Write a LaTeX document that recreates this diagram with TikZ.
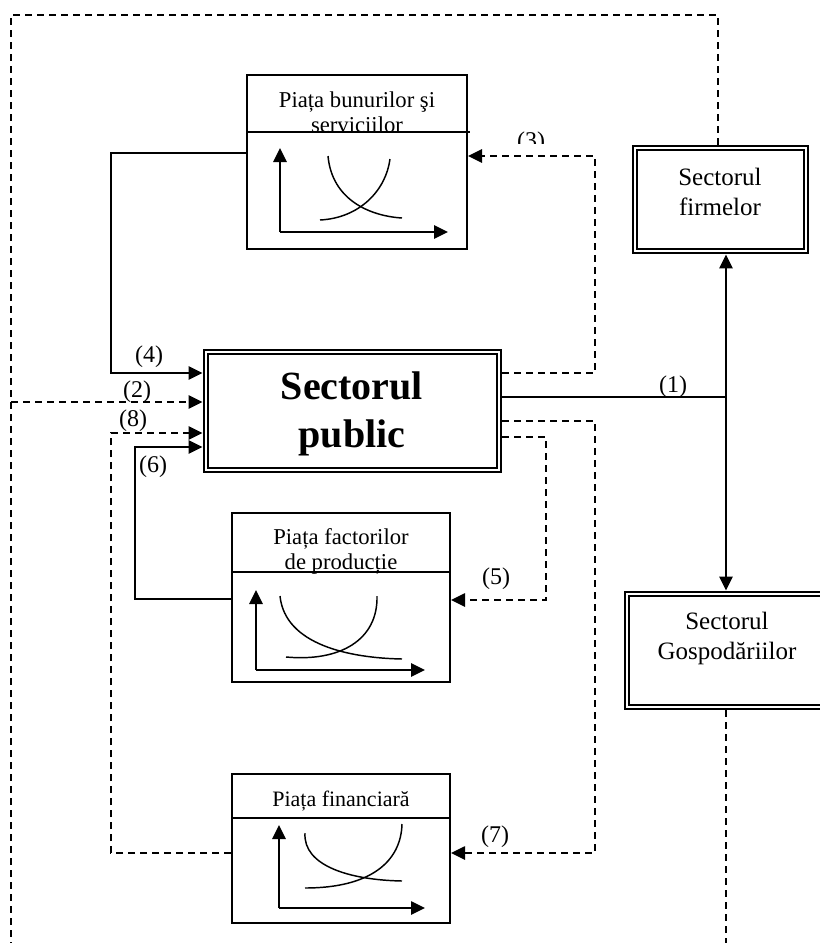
\documentclass[tikz,border=0pt]{standalone}
\usepackage{fontspec}
\setmainfont{Liberation Serif}
\usetikzlibrary{arrows.meta,fit}
\begin{document}
\begin{tikzpicture}[x=0.75pt,y=-0.75pt,
  conn/.style={line width=1.2pt},
  dconn/.style={line width=1.2pt,dash pattern=on 5pt off 4pt},
  arr/.style={-{Triangle[length=10.5pt,width=10pt]}},
  axarr/.style={line width=1.2pt,-{Triangle[length=10.5pt,width=10pt]}},
  curve/.style={line width=1.1pt},
  mbox/.style={draw,line width=1.5pt,inner sep=0pt},
  dbox/.style={draw,line width=2.2pt,inner sep=0pt},
  inner/.style={line width=1.3pt},
  lbl/.style={inner sep=0pt,font=\fontsize{18}{20}\selectfont},
  mtitle/.style={inner sep=0pt,align=center,font=\fontsize{17}{18.75}\selectfont},
  stitle/.style={inner sep=0pt,align=center,font=\fontsize{18.75}{22.5}\selectfont},
  ptitle/.style={inner sep=0pt,align=center,font=\fontsize{30}{36}\selectfont\bfseries}]
\useasboundingbox (0,0) rectangle (820,947);
\clip (0,0) rectangle (820,947);

% boxes
\node[mbox,fit={(247,75) (467,249)}] (bun) {};
\node[mbox,fit={(232,513) (450,682)}] (fact) {};
\node[mbox,fit={(232,774) (450,923)}] (fin) {};
\node[dbox,fit={(204,350) (501,472)}] (pub) {};
\node[dbox,fit={(633,146) (808,253)}] (firm) {};
\node[dbox,fit={(625,592) (829,709)}] (gosp) {};
\draw[inner] ([shift={(5.5,5.5)}]pub.north west) rectangle ([shift={(-5.5,-5.5)}]pub.south east);
\draw[inner] ([shift={(5.5,5.5)}]firm.north west) rectangle ([shift={(-5.5,-5.5)}]firm.south east);
\draw[inner] ([shift={(5.5,5.5)}]gosp.north west) rectangle ([shift={(-5.5,-5.5)}]gosp.south east);

% dividers
\draw[line width=1.5pt] (247,132) -- (470,132);
\draw[line width=1.5pt] (232,572) -- (450,572);
\draw[line width=1.5pt] (232,818) -- (450,818);

% titles
\node[mtitle] (tbun) at (357,112) {Piața bunurilor şi\\serviciilor};
\node[mtitle] (tfact) at (341,551) {Piața factorilor\\de producție};
\node[mtitle,font=\fontsize{16.5}{18}\selectfont] (tfin) at (341,801) {Piața financiară};
\node[ptitle] (tpub) at (352,414) {Sectorul\\public};
\node[stitle] (tfirm) at (720,192) {Sectorul\\firmelor};
\node[stitle] (tgosp) at (727,638) {Sectorul\\Gospodăriilor};

% small graphs
\draw[axarr] (280,232) -- (280,148);
\draw[axarr] (280,232) -- (448,232);
\draw[curve] (328,156) .. controls (332,200) and (370,216) .. (402,218);
\draw[curve] (320,220) .. controls (360,218) and (386,190) .. (390,159);

\draw[axarr] (256,670) -- (256,590);
\draw[axarr] (256,670) -- (425,670);
\draw[curve] (280,596) .. controls (285,645) and (350,658) .. (402,659);
\draw[curve] (286,657) .. controls (340,662) and (378,640) .. (377,596);

\draw[axarr] (279,908) -- (279,825);
\draw[axarr] (279,908) -- (425,908);
\draw[curve] (305,833) .. controls (303,866) and (350,880) .. (402,881);
\draw[curve] (305,888) .. controls (370,888) and (401,862) .. (402,824);

% turning points
\coordinate (tl) at (11,15);
\coordinate (tr) at (718,15);
\coordinate (bl) at (11,943);
\coordinate (k2) at (11,402);
\coordinate (a4) at (111,153);
\coordinate (k4) at (111,373);
\coordinate (k8a) at (111,853);
\coordinate (k8b) at (111,433);
\coordinate (k6a) at (135,599);
\coordinate (k6b) at (135,447);
\coordinate (k3a) at (595,373);
\coordinate (k3b) at (595,156);
\coordinate (k7a) at (595,421);
\coordinate (k7b) at (595,853);
\coordinate (k5a) at (546,437);
\coordinate (k5b) at (546,600);
\coordinate (j1) at (726,397);
\coordinate (gb) at (726,943);

% connectors
\draw[dconn] (firm.north -| tr) -- (tr) -- (tl) -- (bl);
\draw[dconn,arr] (k2) -- (pub.west |- k2);
\draw[conn,arr] (bun.west |- a4) -- (a4) -- (k4) -- (pub.west |- k4);
\draw[dconn,arr] (fin.west |- k8a) -- (k8a) -- (k8b) -- (pub.west |- k8b);
\draw[conn,arr] (fact.west |- k6a) -- (k6a) -- (k6b) -- (pub.west |- k6b);
\draw[dconn,arr] (pub.east |- k3a) -- (k3a) -- (k3b) -- (bun.east |- k3b);
\draw[dconn,arr] (pub.east |- k7a) -- (k7a) -- (k7b) -- (fin.east |- k7b);
\draw[dconn,arr] (pub.east |- k5a) -- (k5a) -- (k5b) -- (fact.east |- k5b);
\draw[conn] (pub.east |- j1) -- (j1);
\draw[conn,arr] (j1) -- (firm.south -| j1);
\draw[conn,arr] (j1) -- (gosp.north -| j1);
\draw[dconn] (gosp.south -| gb) -- (gb);

% labels
\node[lbl] (l1) at (673,387) {(1)};
\node[lbl] (l2) at (137,392) {(2)};
\node[lbl] (l4) at (149,357) {(4)};
\node[lbl] (l8) at (133,421) {(8)};
\node[lbl] (l6) at (153,467) {(6)};
\node[lbl] (l5) at (496,579) {(5)};
\node[lbl] (l7) at (495,837) {(7)};
\begin{scope}
\clip (500,120) rectangle (560,143);
\node[lbl] (l3) at (531,143) {(3)};
\end{scope}
\end{tikzpicture}
\end{document}
